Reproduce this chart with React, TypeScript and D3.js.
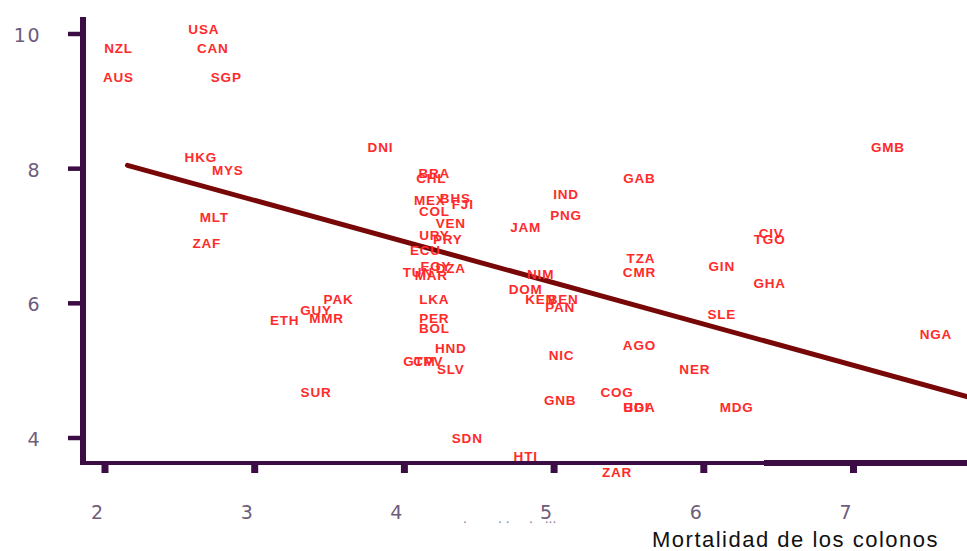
import { useEffect, useRef } from "react";
import * as d3 from "d3";

// country code, settler mortality (log), GDP per capita (log)
const codes = [
  "USA", "NZL", "CAN", "AUS", "SGP", "HKG", "MYS", "DNI", "MLT", "ZAF",
  "GMB", "BRA", "CHL", "MEX", "BHS", "FJI", "COL", "IND", "PNG", "GAB",
  "JAM", "VEN", "URY", "PRY", "ECU", "EGY", "DZA", "TUN", "MAR", "TZA",
  "CMR", "GIN", "CIV", "TGO", "GHA", "SLE", "NGA", "AGO", "NER", "COG",
  "UGA", "BDI", "MDG", "NIM", "DOM", "KEN", "BEN", "PAN", "NIC", "GNB",
  "HTI", "ZAR", "SDN", "PAK", "GUY", "ETH", "MMR", "SUR", "LKA", "PER",
  "BOL", "HND", "GTM", "CPV", "SLV",
];
const mortality = [
  2.66, 2.09, 2.72, 2.09, 2.81, 2.64, 2.82, 3.84, 2.73, 2.68,
  7.23, 4.2, 4.18, 4.17, 4.34, 4.39, 4.2, 5.08, 5.08, 5.57,
  4.81, 4.31, 4.2, 4.29, 4.14, 4.21, 4.31, 4.09, 4.18, 5.58,
  5.57, 6.12, 6.45, 6.44, 6.44, 6.12, 7.55, 5.57, 5.94, 5.42,
  5.57, 5.55, 6.22, 4.91, 4.81, 4.91, 5.06, 5.04, 5.05, 5.04,
  4.81, 5.42, 4.42, 3.56, 3.41, 3.2, 3.48, 3.41, 4.2, 4.2,
  4.2, 4.31, 4.1, 4.16, 4.31,
];
const gdp = [
  10.06, 9.78, 9.78, 9.36, 9.36, 8.17, 7.98, 8.32, 7.27, 6.89,
  8.32, 7.93, 7.86, 7.53, 7.55, 7.47, 7.36, 7.62, 7.31, 7.86,
  7.12, 7.18, 7.01, 6.95, 6.79, 6.55, 6.52, 6.46, 6.42, 6.66,
  6.46, 6.55, 7.03, 6.95, 6.29, 5.84, 5.54, 5.38, 5.02, 4.68,
  4.46, 4.46, 4.46, 6.43, 6.2, 6.05, 6.06, 5.94, 5.23, 4.55,
  3.73, 3.49, 4.0, 6.05, 5.9, 5.74, 5.78, 4.68, 6.05, 5.78,
  5.63, 5.33, 5.14, 5.14, 5.01,
];

// fitted line end points
const fitX = [2.15, 7.78];
const fitY = [8.05, 4.6];

const xTicks = [2, 3, 4, 5, 6, 7];
const yTicks = [4, 6, 8, 10];
const xTitle = "Mortalidad de los colonos";

const axisColor = "#3b0d44";
const tickText = "#6e5c7c";

export default function App() {
  const ref = useRef<SVGSVGElement | null>(null);

  useEffect(() => {
    const svg = d3.select(ref.current);
    svg.selectAll("*").remove();

    const x = d3.scaleLinear().domain([2, 7]).range([105, 853.5]);
    const y = d3.scaleLinear().domain([4, 10]).range([438, 34]);

    const axisX = 83;
    const axisY = 463;

    // y axis
    svg.append("line")
      .attr("x1", axisX).attr("x2", axisX)
      .attr("y1", 17).attr("y2", axisY + 2)
      .attr("stroke", axisColor).attr("stroke-width", 6);

    svg.selectAll(".ytick")
      .data(yTicks)
      .join("line")
      .attr("class", "ytick")
      .attr("x1", 68).attr("x2", axisX)
      .attr("y1", d => y(d)).attr("y2", d => y(d))
      .attr("stroke", axisColor).attr("stroke-width", 4.5);

    svg.selectAll(".ylab")
      .data(yTicks)
      .join("text")
      .attr("class", "ylab")
      .attr("x", 41)
      .attr("y", d => y(d) + 1)
      .attr("text-anchor", "end")
      .attr("dominant-baseline", "central")
      .attr("font-family", "DejaVu Sans, sans-serif")
      .attr("font-size", 19)
      .attr("letter-spacing", 1.5)
      .attr("fill", tickText)
      .text(d => d);

    // x axis
    svg.append("line")
      .attr("x1", axisX - 3).attr("x2", 967)
      .attr("y1", axisY).attr("y2", axisY)
      .attr("stroke", axisColor).attr("stroke-width", 4);
    svg.append("line")
      .attr("x1", 764).attr("x2", 967)
      .attr("y1", axisY).attr("y2", axisY)
      .attr("stroke", axisColor).attr("stroke-width", 6);

    svg.selectAll(".xtick")
      .data(xTicks)
      .join("line")
      .attr("class", "xtick")
      .attr("x1", d => x(d)).attr("x2", d => x(d))
      .attr("y1", axisY).attr("y2", axisY + 10)
      .attr("stroke", axisColor).attr("stroke-width", 7);

    svg.selectAll(".xlab")
      .data(xTicks)
      .join("text")
      .attr("class", "xlab")
      .attr("x", d => x(d) - 8)
      .attr("y", 512)
      .attr("text-anchor", "middle")
      .attr("dominant-baseline", "central")
      .attr("font-family", "DejaVu Sans, sans-serif")
      .attr("font-size", 19)
      .attr("fill", tickText)
      .text(d => d);

    // leftover fragments below the axis
    svg.append("text")
      .attr("x", 463).attr("y", 523)
      .attr("font-family", "Liberation Sans, Arial, sans-serif")
      .attr("font-size", 14)
      .attr("fill", "#8a7c98")
      .attr("xml:space", "preserve")
      .text(".        . .     .   ...");

    svg.append("text")
      .attr("x", 652).attr("y", 547)
      .attr("font-family", "Liberation Sans, Arial, sans-serif")
      .attr("font-size", 22)
      .attr("letter-spacing", 1.5)
      .attr("fill", "#111")
      .text(xTitle);

    // regression line
    const line = d3.line<number>()
      .x((d, i) => x(fitX[i]))
      .y(d => y(d));
    svg.append("path")
      .attr("d", line(fitY))
      .attr("fill", "none")
      .attr("stroke", "#780808")
      .attr("stroke-width", 5)
      .attr("stroke-linecap", "round");

    // country labels
    svg.selectAll(".lab")
      .data(codes)
      .join("text")
      .attr("class", "lab")
      .attr("x", (d, i) => x(mortality[i]))
      .attr("y", (d, i) => y(gdp[i]))
      .attr("text-anchor", "middle")
      .attr("dominant-baseline", "central")
      .attr("font-family", "Liberation Sans, Arial, sans-serif")
      .attr("font-weight", "bold")
      .attr("font-size", 13.5)
      .attr("letter-spacing", 0.8)
      .attr("fill", "#ff2a2a")
      .text(d => d);
  }, []);

  return (
    <svg
      ref={ref}
      width={967}
      height={551}
      style={{ position: "absolute", left: 0, top: 0, background: "#fff" }}
    />
  );
}
